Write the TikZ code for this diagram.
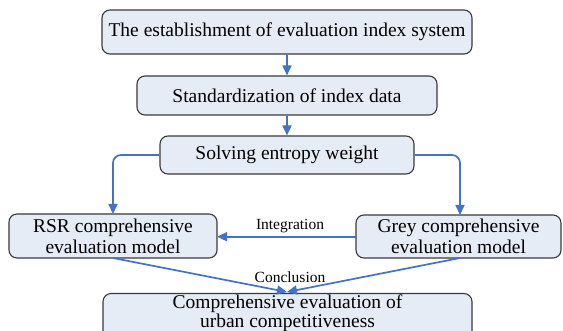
\documentclass[tikz,border=0pt]{standalone}
\usepackage{fontspec}
\setmainfont{Liberation Serif}
\usetikzlibrary{arrows.meta}
\definecolor{boxfill}{HTML}{E6ECF6}
\definecolor{boxline}{HTML}{3A3A3A}
\definecolor{arr}{HTML}{4472C4}
\begin{document}
\begin{tikzpicture}[x=1pt,y=-1pt,
  stepbox/.style={draw=boxline,fill=boxfill,rounded corners=8pt,line width=1.1pt,inner sep=0pt,align=center,font=\fontsize{19.5}{21}\selectfont},
  conn/.style={draw=arr,line width=1.7pt,-{Triangle[length=10pt,width=9pt]}},
  lbl/.style={font=\fontsize{15.5}{17}\selectfont,inner sep=1pt}]
\clip (0,0) rectangle (563,331);
\fill[white] (0,0) rectangle (563,331);
\node[stepbox,minimum width=370pt,minimum height=44pt] (b1) at (287,32) {The establishment of evaluation index system};
\node[stepbox,minimum width=300pt,minimum height=39pt] (b2) at (287,95.5) {Standardization of index data};
\node[stepbox,minimum width=254pt,minimum height=38pt] (b3) at (287,155) {Solving entropy weight};
\node[stepbox,minimum width=208pt,minimum height=44pt] (rsr) at (113,236) {RSR comprehensive\\evaluation model};
\node[stepbox,minimum width=205pt,minimum height=43pt] (grey) at (458.5,236.5) {Grey comprehensive\\evaluation model};
\node[stepbox,minimum width=369pt,minimum height=50pt,anchor=north] (fin) at (287.5,293) {};
\node[font=\fontsize{19.5}{19}\selectfont,align=center,inner sep=0pt] (fintxt) at (287.5,313) {Comprehensive evaluation of\\urban competitiveness};
\draw[conn] (b1) -- (b2);
\draw[conn] (b2) -- (b3);
\coordinate (lt) at (113,214);
\coordinate (rt) at (460,215);
\draw[conn,rounded corners=8pt] (b3.west) -| (lt);
\draw[conn,rounded corners=8pt] (b3.east) -| (rt);
\coordinate (gw) at (356,236.7);
\coordinate (re) at (217,236.7);
\draw[conn] (gw) -- (re);
\node[lbl] (integ) at (290,226) {Integration};
\coordinate (meet) at (287,292);
\coordinate (rb) at (113,258);
\coordinate (gb) at (460,258);
\draw[conn] (rb) -- (meet);
\draw[conn] (gb) -- (meet);
\node[lbl] (concl) at (290,277) {Conclusion};
\end{tikzpicture}
\end{document}
